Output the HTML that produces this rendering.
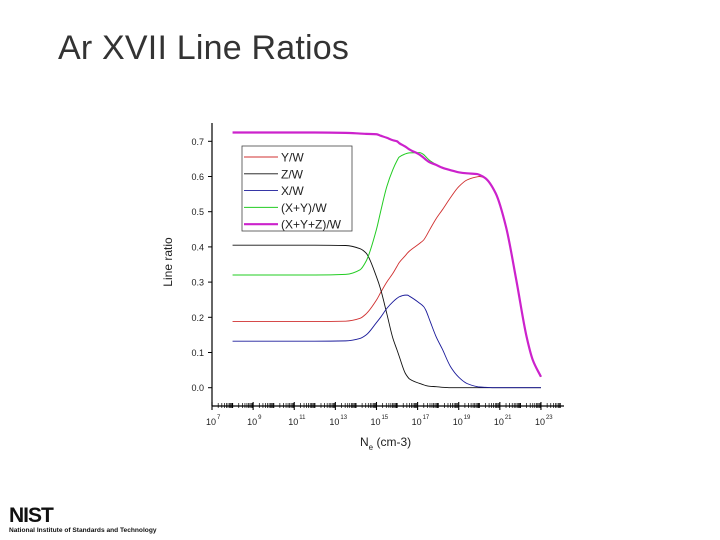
<!DOCTYPE html>
<html><head><meta charset="utf-8"><style>
body{margin:0;background:#fff;}
#root{position:relative;width:720px;height:540px;overflow:hidden;background:#fff;font-family:"Liberation Sans",sans-serif;}
.title{position:absolute;left:58px;top:29px;font-size:34px;color:#333;letter-spacing:0.2px;}
.nist{position:absolute;left:9px;top:504px;font-size:21px;font-weight:bold;color:#111;letter-spacing:-1px;font-family:"Liberation Sans",sans-serif;}
.nistsub{position:absolute;left:9px;top:527px;font-size:6.6px;font-weight:bold;color:#111;white-space:nowrap;}
</style></head><body>
<div id="root">
<div class="title">Ar XVII Line Ratios</div>
<svg id="chart" width="720" height="540" style="position:absolute;left:0;top:0"></svg>
<div class="nist">NIST</div>
<div class="nistsub">National Institute of Standards and Technology</div>
</div>
<script>
const logNe = [8, 10, 12, 13.5, 14.2, 14.5, 15.0, 15.2, 15.5, 15.8, 16.0, 16.1, 16.4, 16.5, 16.6, 17.1, 17.3, 17.4, 17.6, 17.9, 18.2, 18.6, 19.0, 19.4, 19.9, 20.0, 20.3, 20.8, 21.3, 21.8, 22.3, 22.6, 23];
const yw   = [0.188,0.188,0.188,0.189,0.197,0.21,0.249,0.27,0.30,0.325,0.345,0.355,0.375,0.382,0.388,0.41,0.42,0.429,0.45,0.48,0.505,0.54,0.571,0.59,0.599,0.60,0.595,0.552,0.457,0.306,0.145,0.079,0.031];
const zw   = [0.405,0.405,0.405,0.404,0.395,0.382,0.315,0.28,0.211,0.14,0.107,0.09,0.041,0.032,0.025,0.012,0.008,0.006,0.004,0.003,0.001,0,0,0,0,0,0,0,0,0,0,0,0];
const xw   = [0.132,0.132,0.132,0.133,0.14,0.15,0.185,0.20,0.225,0.244,0.254,0.258,0.263,0.263,0.26,0.24,0.23,0.22,0.19,0.145,0.11,0.06,0.03,0.012,0.003,0.002,0.001,0,0,0,0,0,0];
const xyw  = [0.32,0.32,0.32,0.322,0.335,0.36,0.45,0.50,0.571,0.62,0.645,0.655,0.664,0.666,0.667,0.668,0.662,0.656,0.645,0.634,0.625,0.618,0.612,0.609,0.607,0.605,0.595,0.552,0.457,0.306,0.145,0.079,0.031];
const xyzw = [0.725,0.725,0.725,0.724,0.722,0.721,0.72,0.716,0.71,0.703,0.70,0.695,0.685,0.681,0.677,0.662,0.653,0.648,0.64,0.633,0.625,0.618,0.612,0.609,0.607,0.605,0.595,0.552,0.457,0.306,0.145,0.079,0.031];
const yTicks = [0.0,0.1,0.2,0.3,0.4,0.5,0.6,0.7];
const xTickExps = [7,9,11,13,15,17,19,21,23];
const seriesNames = ["Y/W","Z/W","X/W","(X+Y)/W","(X+Y+Z)/W"];

const svg = document.getElementById('chart');
const NS = 'http://www.w3.org/2000/svg';
const X0=212, XD=20.56, Y0=387.7, YS=352;
const xs = l => X0 + (l-7)*XD;
const ys = v => Y0 - v*YS;
function mk(tag, attrs){const e=document.createElementNS(NS,tag);for(const k in attrs)e.setAttribute(k,attrs[k]);svg.appendChild(e);return e;}

let ax = mk('line',{x1:212,y1:123,x2:212,y2:406,stroke:'#000','stroke-width':1.2});


ax = mk('line',{x1:212,y1:406,x2:564,y2:406,stroke:'#000','stroke-width':1.2});



yTicks.forEach(v=>{
  const y=ys(v);
  const t=mk('line',{x1:208,y1:y,x2:212,y2:y,stroke:'#000','stroke-width':1});
  
  
  const tx=mk('text',{x:204,y:y+3.5,'font-size':9,'text-anchor':'end',fill:'#222'});
  tx.textContent=v.toFixed(1);
  
  
});
for(let d=7; d<24; d++){
  for(let m=1;m<=9;m++){
    const l=d+Math.log10(m); const x=xs(l); if(x>564) break;
    const major = m===1 && (d-7)%2===0;
    const t=mk('line',{x1:x,y1:406-(major?4:3),x2:x,y2:406+(major?4:2),stroke:'#000','stroke-width':m===1?1.1:0.7});
    
    
  }
}
xTickExps.forEach(e=>{
  const x=xs(e);
  const tx=mk('text',{x:x-1,y:425,'font-size':9,'text-anchor':'middle',fill:'#222'});
  tx.textContent='10';
  
  
  const sup=mk('text',{x:x+5,y:419,'font-size':6,'text-anchor':'start',fill:'#222'});
  sup.textContent=String(e);
  
  
});
let tt=mk('text',{x:172,y:262,'font-size':12,'text-anchor':'middle',fill:'#222',transform:'rotate(-90 172 262)'});
tt.textContent='Line ratio';


tt=mk('text',{x:360,y:446,'font-size':12,fill:'#222'});
tt.innerHTML='N<tspan font-size="8" dy="4">e</tspan><tspan dy="-4"> (cm-3)</tspan>';



// monotone cubic (Fritsch-Carlson) path
function pathFor(vals){
  const px=logNe.map(xs), py=vals.map(ys), n=px.length;
  const dl=[], m=new Array(n);
  for(let i=0;i<n-1;i++) dl.push((py[i+1]-py[i])/(px[i+1]-px[i]));
  m[0]=dl[0]; m[n-1]=dl[n-2];
  for(let i=1;i<n-1;i++){
    if(dl[i-1]*dl[i]<=0) m[i]=0;
    else {const h0=px[i]-px[i-1],h1=px[i+1]-px[i];const w1=2*h1+h0,w2=h1+2*h0;m[i]=(w1+w2)/(w1/dl[i-1]+w2/dl[i]);}
  }
  let d='M'+px[0]+','+py[0];
  for(let i=0;i<n-1;i++){
    const h=(px[i+1]-px[i])/3;
    d+=` C${px[i]+h},${py[i]+m[i]*h} ${px[i+1]-h},${py[i+1]-m[i+1]*h} ${px[i+1]},${py[i+1]}`;
  }
  return d;
}
const series=[[yw,'#d03030',0.9,'series-y-w'],[zw,'#111',0.9,'series-z-w'],[xw,'#1a1a9a',0.9,'series-x-w'],[xyw,'#22cc22',1,'series-xy-w'],[xyzw,'#cc22cc',2.2,'series-xyz-w']];
series.forEach(s=>{
  const p=mk('path',{d:pathFor(s[0]),fill:'none',stroke:s[1],'stroke-width':s[2]});
  
  
});
const lg=mk('rect',{x:242,y:146,width:110,height:85,fill:'#fff',stroke:'#444','stroke-width':0.8});


seriesNames.forEach((n,i)=>{
  const y=157+i*16.8;
  const l=mk('line',{x1:244,y1:y,x2:278,y2:y,stroke:series[i][1],'stroke-width':series[i][2]});
  
  
  const t=mk('text',{x:281,y:y+4.5,'font-size':12,fill:'#222'});
  t.textContent=n;
  
  
});
</script>
</body></html>
